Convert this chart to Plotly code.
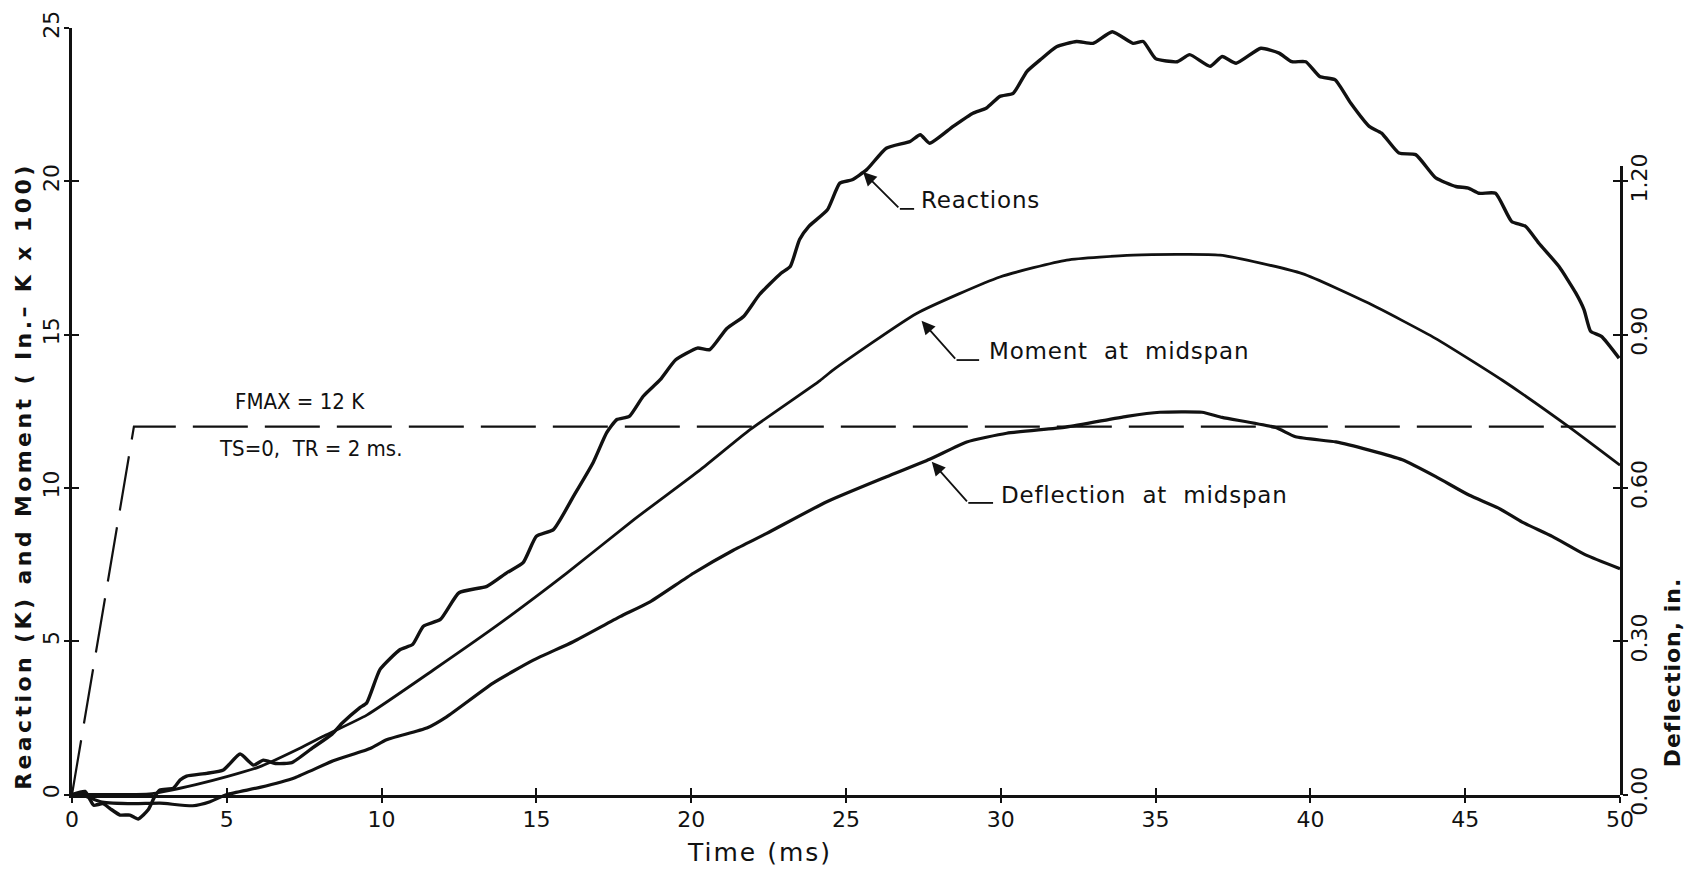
import plotly.graph_objects as go

# ---------------- data ----------------
react_t = [0, 0.42, 0.6, 0.7, 1.0, 1.23, 1.55, 1.87, 2.14, 2.46, 2.68, 2.84, 3.27, 3.49, 3.7,
           4.35, 4.89, 5.43, 5.86, 6.18, 6.6, 7.1, 7.77, 8.4, 8.73, 9.28, 9.52, 9.95, 10.6, 11.0,
           11.35, 11.9, 12.5, 13.4, 14.04, 14.57, 15.0, 15.55, 16.2, 16.83, 17.27, 17.6, 18.0,
           18.45, 19.0, 19.5, 20.2, 20.6, 21.15, 21.7, 22.2, 22.9, 23.2, 23.5, 23.8, 24.4, 24.8,
           25.2, 25.67, 26.3, 27.07, 27.4, 27.7, 28.46, 29.1, 29.54, 29.97, 30.4, 30.84, 31.27,
           31.8, 32.45, 32.98, 33.6, 34.27, 34.6, 35.0, 35.7, 36.1, 36.76, 37.15, 37.6, 38.4,
           38.99, 39.4, 39.85, 40.3, 40.8, 41.3, 41.9, 42.3, 42.86, 43.4, 44.05, 44.7, 45.1,
           45.45, 45.98, 46.5, 46.95, 47.38, 48.03, 48.57, 48.84, 49.05, 49.4, 49.97]
react_k = [0, 0.1, -0.2, -0.35, -0.3, -0.46, -0.67, -0.67, -0.8, -0.5, -0.05, 0.15, 0.2, 0.47, 0.6,
           0.69, 0.8, 1.32, 0.96, 1.12, 1.01, 1.04, 1.52, 1.97, 2.33, 2.82, 2.99, 4.08, 4.73, 4.89,
           5.49, 5.71, 6.58, 6.79, 7.23, 7.56, 8.42, 8.64, 9.73, 10.82, 11.8, 12.23, 12.33,
           12.99, 13.53, 14.18, 14.56, 14.51, 15.2, 15.6, 16.3, 17.0, 17.22, 18.1, 18.53, 19.07, 19.94,
           20.05, 20.38, 21.08, 21.3, 21.52, 21.24, 21.79, 22.22, 22.39, 22.77, 22.87, 23.58, 23.96,
           24.39, 24.56, 24.5, 24.88, 24.5, 24.56, 24.0, 23.9, 24.13, 23.75, 24.07, 23.85, 24.34,
           24.18, 23.9, 23.9, 23.42, 23.31, 22.55, 21.79, 21.57, 20.92, 20.87, 20.11, 19.83, 19.78,
           19.61, 19.61, 18.69, 18.53, 17.98, 17.22, 16.36, 15.81, 15.11, 14.94, 14.23]

moment_t = [0, 1.5, 2.5, 3.0, 4.0, 5.0, 6.05, 7.36, 8.2, 9.52, 11.67, 13.82, 15.97, 18.13, 20.28,
            21.9, 24.16, 24.59, 27.28, 29.97, 32.13, 34.28, 37.08, 39.74, 41.89, 44.05, 46.2,
            48.35, 50.0]
moment_ik = [0, 0, 0.02, 0.1, 0.32, 0.58, 0.9, 1.51, 1.94, 2.59, 4.06, 5.58, 7.21, 8.95, 10.58,
             11.9, 13.5, 13.85, 15.69, 16.88, 17.43, 17.59, 17.59, 16.99, 16.02, 14.87, 13.51,
             11.99, 10.74]

defl_t = [0, 0.4, 0.97, 2.0, 2.84, 3.9, 4.46, 5.0, 6.07, 7.2, 8.44, 9.63, 10.16, 11.46, 12.1,
          13.6, 14.9, 16.19, 17.7, 18.67, 20.07, 21.36, 22.44, 24.38, 26.31, 27.7, 28.9, 30.19,
          32.1, 34.07, 35.14, 36.5, 37.15, 38.88, 39.52, 40.82, 41.9, 42.97, 44.05, 45.12, 46.09,
          46.84, 47.81, 48.89, 50.0]
defl_in = [0, -0.003, -0.015, -0.018, -0.017, -0.022, -0.014, 0, 0.014, 0.033, 0.066, 0.090,
           0.107, 0.130, 0.152, 0.218, 0.263, 0.299, 0.348, 0.377, 0.433, 0.478, 0.511, 0.573,
           0.622, 0.656, 0.690, 0.707, 0.719, 0.740, 0.748, 0.748, 0.738, 0.718, 0.700, 0.690,
           0.674, 0.655, 0.622, 0.586, 0.560, 0.533, 0.505, 0.469, 0.442]

load_t = [0, 2, 50]
load_k = [0, 12, 12]

x_ticks = [0, 5, 10, 15, 20, 25, 30, 35, 40, 45, 50]
x_ticklabels = ["0", "5", "10", "15", "20", "25", "30", "35", "40", "45", "50"]
yl_ticks = [0, 5, 10, 15, 20, 25]
yl_ticklabels = ["0", "5", "10", "15", "20", "25"]
yr_ticks = [0.0, 0.30, 0.60, 0.90, 1.20]
yr_ticklabels = ["0.00", "0.30", "0.60", "0.90", "1.20"]

# ---------------- layout geometry ----------------
W, H = 1689, 875
ML, MR, MT, MB = 72, 69, 28, 34
PH = H - MT - MB
Y_TOP = 25.0
PX_UNIT = 30.66                       # pixels per left-axis unit
Y_ZERO_PX = MT + Y_TOP * PX_UNIT      # pixel row of the zero line
lo = -((H - MB) - Y_ZERO_PX) / PX_UNIT
yz = ((H - MB) - Y_ZERO_PX) / PH      # paper fraction of the zero line
DEFL_SCALE = 0.06                     # inches per left-axis unit
R_TOP = 1.23
yr_top = yz + (R_TOP / DEFL_SCALE) * PX_UNIT / PH

FONT = "DejaVu Sans, Liberation Sans"
NARROW = "DejaVu Sans Condensed, DejaVu Sans"
BLACK = "#111111"

fig = go.Figure()

line_common = dict(color=BLACK, shape="spline", smoothing=0.5)
fig.add_trace(go.Scatter(x=react_t, y=react_k, mode="lines", xaxis="x", yaxis="y2",
                         line=dict(width=3.4, **line_common), name="Reactions"))
fig.add_trace(go.Scatter(x=moment_t, y=moment_ik, mode="lines", xaxis="x", yaxis="y2",
                         line=dict(width=2.8, **line_common), name="Moment at midspan"))
fig.add_trace(go.Scatter(x=defl_t, y=defl_in, mode="lines", xaxis="x", yaxis="y4",
                         line=dict(width=3.2, **line_common), name="Deflection at midspan"))
fig.add_trace(go.Scatter(x=load_t, y=load_k, mode="lines", xaxis="x", yaxis="y2",
                         line=dict(width=2.2, color=BLACK, dash="55px,17px"), name="Load"))

# empty traces so that the tick-crossing overlay axes are drawn
fig.add_trace(go.Scatter(x=[], y=[], xaxis="x2", yaxis="y", hoverinfo="skip"))
fig.add_trace(go.Scatter(x=[], y=[], xaxis="x", yaxis="y5", hoverinfo="skip"))
fig.add_trace(go.Scatter(x=[], y=[], xaxis="x", yaxis="y6", hoverinfo="skip"))
fig.add_trace(go.Scatter(x=[], y=[], xaxis="x", yaxis="y3", hoverinfo="skip"))

tickfont = dict(family=FONT, size=22, color=BLACK)
axis_line = dict(showline=True, linecolor=BLACK, showgrid=False, zeroline=False)
TL = 5

fig.update_layout(
    width=W, height=H,
    margin=dict(l=ML, r=MR, t=MT, b=MB),
    paper_bgcolor="white", plot_bgcolor="rgba(0,0,0,0)",
    showlegend=False,
    xaxis=dict(domain=[0, 1], range=[0, 50], anchor="y", tickvals=x_ticks, ticktext=x_ticklabels,
               ticks="outside", ticklen=TL + 1, tickwidth=2, tickcolor=BLACK, linewidth=2.6,
               tickfont=tickfont, ticklabelstandoff=-3, **axis_line),
    xaxis2=dict(overlaying="x", range=[0, 50], anchor="y", tickvals=x_ticks, showticklabels=False,
                ticks="inside", ticklen=7, tickwidth=2, tickcolor=BLACK, showline=False,
                showgrid=False, zeroline=False),
    yaxis=dict(domain=[yz, 1], range=[0, Y_TOP], anchor="x", tickvals=yl_ticks,
               ticktext=yl_ticklabels, tickangle=-90, ticks="outside", ticklen=TL, tickwidth=2,
               tickcolor=BLACK, linewidth=3.2, tickfont=tickfont, ticklabelstandoff=-4,
               **axis_line),
    yaxis5=dict(overlaying="y", range=[0, Y_TOP], anchor="x", tickvals=yl_ticks,
                showticklabels=False, ticks="inside", ticklen=7, tickwidth=2, tickcolor=BLACK,
                showline=False, showgrid=False, zeroline=False),
    yaxis2=dict(domain=[0, 1], range=[lo, Y_TOP], anchor="x", visible=False),
    yaxis4=dict(domain=[0, 1], range=[lo * DEFL_SCALE, Y_TOP * DEFL_SCALE], anchor="x",
                visible=False),
    yaxis3=dict(domain=[yz, yr_top], range=[0, R_TOP], anchor="x", side="right",
                tickvals=yr_ticks, ticktext=yr_ticklabels, tickangle=-90, ticks="outside",
                ticklen=TL, tickwidth=2, tickcolor=BLACK, linewidth=2.6, tickfont=tickfont,
                ticklabelstandoff=-7, **axis_line),
    yaxis6=dict(overlaying="y3", range=[0, R_TOP], anchor="x", side="right", tickvals=yr_ticks,
                showticklabels=False, ticks="inside", ticklen=7, tickwidth=2, tickcolor=BLACK,
                showline=False, showgrid=False, zeroline=False),
)

# ---------------- text and leaders ----------------
lab_font = dict(family=FONT, size=23, color=BLACK)
frac_font = dict(family=NARROW, size=22, color=BLACK)


def spaced(txt, px):
    return '<span style="letter-spacing:%spx">%s</span>' % (px, txt)


annotations = [
    dict(text=spaced("Time (ms)", 2), xref="x", x=22.2, yref="paper", y=-0.014,
         showarrow=False, xanchor="center", yanchor="middle",
         font=dict(family=FONT, size=25, color=BLACK)),
    dict(text="<b>" + spaced("Reaction (K) and Moment ( In.– K x 100)", 3.4) + "</b>",
         xref="paper", x=-0.031, yref="paper", y=0.448, textangle=-90, showarrow=False,
         xanchor="center", yanchor="middle", font=dict(family=FONT, size=22, color=BLACK)),
    dict(text="<b>" + spaced("Deflection, in.", 1) + "</b>", xref="paper", x=1.034,
         yref="paper", y=0.207, textangle=-90, showarrow=False, xanchor="center",
         yanchor="middle", font=dict(family=FONT, size=22, color=BLACK)),
    dict(text="FMAX = 12 K", xref="x", x=7.35, yref="y2", y=12.35, showarrow=False,
         xanchor="center", yanchor="bottom", font=frac_font),
    dict(text="TS=0,  TR = 2 ms.", xref="x", x=7.7, yref="y2", y=11.75, showarrow=False,
         xanchor="center", yanchor="top", font=frac_font),
]

# leaders: (arrow head t, head v, bend t, bend v, line end t, text t, text v, text)
leaders = [
    (25.55, 20.3, 26.74, 19.1, 27.2, 27.35, 19.4, "Reactions"),
    (27.44, 15.45, 28.57, 14.17, 29.3, 29.55, 14.45, "Moment  at  midspan"),
    (27.77, 10.85, 28.95, 9.51, 29.75, 29.95, 9.78, "Deflection  at  midspan"),
]
shapes = []
for hx, hy, bx, by, ex, tx, ty, txt in leaders:
    annotations.append(dict(text="", x=hx, y=hy, xref="x", yref="y2", ax=bx, ay=by,
                            axref="x", ayref="y2", showarrow=True, arrowhead=2,
                            arrowsize=1.5, arrowwidth=1.8, arrowcolor=BLACK, standoff=0))
    shapes.append(dict(type="line", xref="x", yref="y2", x0=bx, y0=by, x1=ex, y1=by,
                       line=dict(color=BLACK, width=1.8)))
    annotations.append(dict(text=spaced(txt, 0.8), x=tx, y=ty, xref="x", yref="y2",
                            showarrow=False, xanchor="left", yanchor="middle", font=lab_font))

fig.update_layout(annotations=annotations, shapes=shapes)

fig.write_html("out.html")
